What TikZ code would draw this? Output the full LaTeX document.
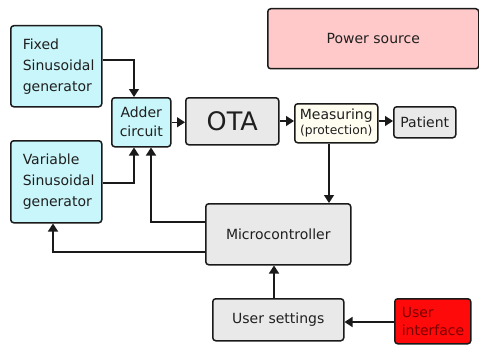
\documentclass[tikz,border=0pt]{standalone}
\usepackage{fontspec}
\setmainfont{DejaVu Sans}
\usetikzlibrary{arrows.meta}
\definecolor{cyanfill}{HTML}{C9F6FA}
\definecolor{grayfill}{HTML}{E9E9E9}
\definecolor{pinkfill}{HTML}{FFC9C9}
\definecolor{creamfill}{HTML}{FFFCF0}
\definecolor{redfill}{HTML}{FF0A0A}
\definecolor{darkredtext}{HTML}{7A0000}
\definecolor{inkline}{HTML}{1A1A1A}
\tikzset{
  blockbox/.style={draw=inkline, line width=1.5pt, rounded corners=3pt, inner sep=0pt,
    font=\fontsize{14}{21}\selectfont, text=black!88},
  link/.style={draw=inkline, line width=1.4pt, -{Triangle[length=8pt,width=10pt]}},
}
\begin{document}
\begin{tikzpicture}[x=1pt,y=-1pt]
\useasboundingbox (0,0) rectangle (479,345);
% blocks, placed by their corners
\node[blockbox, fill=cyanfill, minimum width=91pt, minimum height=81pt, anchor=north west, align=left, text width=67pt]
  (fixed) at (10,25) {Fixed\\Sinusoidal\\generator};
\node[blockbox, fill=cyanfill, minimum width=91pt, minimum height=82pt, anchor=north west, align=left, text width=67pt]
  (var) at (10,140) {Variable\\Sinusoidal\\generator};
\node[blockbox, fill=cyanfill, minimum width=59pt, minimum height=49pt, anchor=north west, align=center, font=\fontsize{14}{19}\selectfont]
  (adder) at (111,97) {Adder\\circuit};
\node[blockbox, fill=grayfill, minimum width=93pt, minimum height=47pt, anchor=north west, font=\fontsize{25.5}{28}\selectfont]
  (ota) at (185,97) {OTA};
\node[blockbox, fill=creamfill, minimum width=83pt, minimum height=39pt, anchor=north west, align=center]
  (meas) at (294,103) {Measuring\\[-6pt]{\fontsize{12.3}{14}\selectfont(protection)}};
\node[blockbox, fill=grayfill, minimum width=62pt, minimum height=31pt, anchor=north west]
  (patient) at (393,106) {Patient};
\node[blockbox, fill=pinkfill, minimum width=211pt, minimum height=60pt, anchor=north west]
  (power) at (267,8) {Power source};
\node[blockbox, fill=grayfill, minimum width=145pt, minimum height=61pt, anchor=north west]
  (micro) at (205,203) {Microcontroller};
\node[blockbox, fill=grayfill, minimum width=131pt, minimum height=42pt, anchor=north west]
  (settings) at (212,298) {User settings};
\node[blockbox, fill=redfill, minimum width=76pt, minimum height=45pt, anchor=north west, align=left, text width=62pt, text=darkredtext, font=\fontsize{14}{18}\selectfont]
  (ui) at (394,298) {User\\interface};
% signal paths
\draw[link] (fixed.east |- 0,60) -| (adder.north -| 134,0);
\draw[link] (var.east |- 0,183) -| (adder.south -| 134,0);
\draw[link] (micro.west |- 0,222) -| (adder.south -| 151,0);
\draw[link] (micro.west |- 0,252) -| (var.south -| 53,0);
\draw[link] (adder.east) -- (ota.west |- adder.east);
\draw[link] (ota.east |- 0,121) -- (meas.west |- 0,121);
\draw[link] (meas.east |- 0,121) -- (patient.west |- 0,121);
\draw[link] (meas.south -| 329,0) -- (micro.north -| 329,0);
\draw[link] (settings.north -| 274,0) -- (micro.south -| 274,0);
\draw[link] (ui.west |- 0,322) -- (settings.east |- 0,322);
\end{tikzpicture}
\end{document}
